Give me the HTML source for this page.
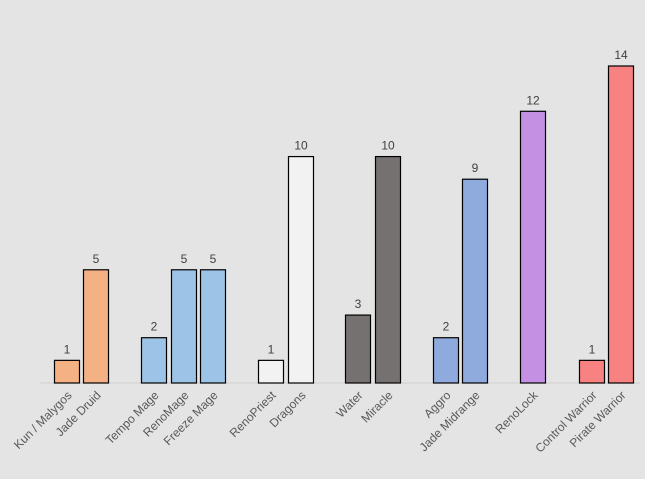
<!DOCTYPE html>
<html><head><meta charset="utf-8"><style>
html,body{margin:0;padding:0;background:#e4e4e4;}
svg{display:block;font-family:"Liberation Sans",sans-serif;}
</style></head><body>
<svg id="chart" width="645" height="479" viewBox="0 0 645 479">
<rect x="0" y="0" width="645" height="479" fill="#e4e4e4"/>
<line x1="40" y1="383" x2="640" y2="383" stroke="#d0d0d0" stroke-width="1"/>
<g id="bars"></g>
</svg>
<script>
const categories = ["Kun / Malygos","Jade Druid","Tempo Mage","RenoMage","Freeze Mage","RenoPriest","Dragons","Water","Miracle","Aggro","Jade Midrange","RenoLock","Control Warrior","Pirate Warrior"];
const values = [1,5,2,5,5,1,10,3,10,2,9,12,1,14];
const groups = [0,0,1,1,1,2,2,3,3,4,4,5,6,6];
const groupColors = ["#f4b183","#9dc3e6","#f2f2f2","#767171","#8faadc","#c490e4","#f88282"];
const barLeft = [54,83,141,171,200,258,288,345,375,433,462,520,579,608];
const baseY = 383, unit = (383-66)/14, bw = 25;
function yScale(v){return baseY - v*unit;}
const ns="http://www.w3.org/2000/svg";
const g=document.getElementById('bars');
categories.forEach((c,i)=>{
  const x=barLeft[i], y=yScale(values[i]);
  const r=document.createElementNS(ns,'rect');
  
  
  r.setAttribute('x',x+0.5);r.setAttribute('y',y);r.setAttribute('width',bw);r.setAttribute('height',baseY-y);
  r.setAttribute('fill',groupColors[groups[i]]);r.setAttribute('stroke','#000');r.setAttribute('stroke-width','1.2');
  g.appendChild(r);
  const t=document.createElementNS(ns,'text');
  
  
  t.setAttribute('x',x+bw/2+0.5);t.setAttribute('y',y-7);t.setAttribute('text-anchor','middle');
  t.setAttribute('font-size','12');t.setAttribute('fill','#404040');t.textContent=values[i];
  g.appendChild(t);
  const l=document.createElementNS(ns,'text');
  
  
  const lx=x+bw/2+6, ly=396;
  l.setAttribute('x',lx);l.setAttribute('y',ly);l.setAttribute('text-anchor','end');
  l.setAttribute('transform','rotate(-45 '+lx+' '+ly+')');
  l.setAttribute('font-size','12');l.setAttribute('fill','#595959');l.textContent=c;
  g.appendChild(l);
});
</script>
</body></html>
